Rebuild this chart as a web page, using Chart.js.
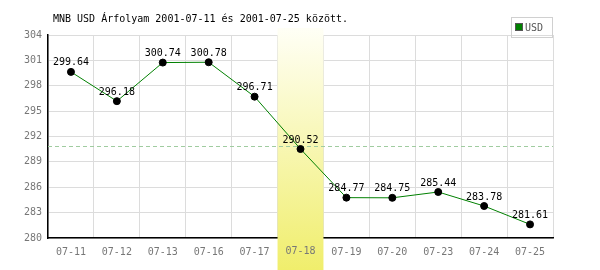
<!DOCTYPE html>
<html>
<head>
<meta charset="utf-8">
<script src="https://cdn.jsdelivr.net/npm/chart.js@4"></script>
<style>
  body { margin: 0; background: #fff; }
  #wrap { width: 600px; height: 270px; }
</style>
</head>
<body>
<div id="wrap"><canvas id="grafikon" width="600" height="270"></canvas></div>
<script>
var napok = ['07-11', '07-12', '07-13', '07-16', '07-17', '07-18', '07-19', '07-20', '07-23', '07-24', '07-25'];
var arfolyam = [299.64, 296.18, 300.74, 300.78, 296.71, 290.52, 284.77, 284.75, 285.44, 283.78, 281.61];
var atlag = [290.85];
var kiemelt = ['07-18'];
var cim = 'MNB USD Árfolyam 2001-07-11 és 2001-07-25 között.';
var mono = '"DejaVu Sans Mono", monospace';

var rajzolo = {
    id: 'rajzolo',
    beforeDatasetsDraw: function (chart) {
        var ctx = chart.ctx;
        var x = chart.scales.x;
        var y = chart.scales.y;
        var area = chart.chartArea;
        var fel = (x.getPixelForValue(1) - x.getPixelForValue(0)) / 2;

        // kiemelt nap sávja
        kiemelt.forEach(function (nap) {
            var kx = x.getPixelForValue(napok.indexOf(nap));
            var g = ctx.createLinearGradient(0, 28, 0, 270);
            g.addColorStop(0, '#fffff6');
            g.addColorStop(1, '#f0ee6c');
            ctx.save();
            ctx.fillStyle = g;
            ctx.fillRect(kx - fel, 28, fel * 2, 242);
            // a nap felirata a sáv fölé
            ctx.font = '10px ' + mono;
            ctx.fillStyle = '#777';
            ctx.textAlign = 'center';
            ctx.textBaseline = 'top';
            ctx.fillText(nap, kx, area.bottom + 8);
            ctx.restore();
        });

        // átlag vonal
        var ay = Math.round(y.getPixelForValue(atlag[0])) + 0.5;
        ctx.save();
        ctx.strokeStyle = '#a0cca0';
        ctx.lineWidth = 1;
        ctx.setLineDash([4, 3]);
        ctx.beginPath();
        ctx.moveTo(area.left, ay);
        ctx.lineTo(area.right, ay);
        ctx.stroke();
        ctx.restore();
    },
    afterDraw: function (chart) {
        var ctx = chart.ctx;
        var meta = chart.getDatasetMeta(0);
        ctx.save();
        ctx.font = '10px ' + mono;
        ctx.fillStyle = '#000';
        ctx.textAlign = 'center';
        ctx.textBaseline = 'bottom';
        meta.data.forEach(function (pont, i) {
            ctx.fillText(arfolyam[i].toFixed(2), pont.x, pont.y - 4);
        });

        // cím
        ctx.textAlign = 'left';
        ctx.textBaseline = 'middle';
        ctx.fillText(cim, 53, 19);

        // jelmagyarázat
        ctx.strokeStyle = '#d0d0d0';
        ctx.lineWidth = 1;
        ctx.strokeRect(511.5, 17.5, 41, 20);
        ctx.fillStyle = '#008000';
        ctx.fillRect(516, 24, 6, 6);
        ctx.strokeStyle = '#555';
        ctx.strokeRect(515.5, 23.5, 7, 7);
        ctx.fillStyle = '#555';
        ctx.font = '10px ' + mono;
        ctx.fillText('USD', 525, 28);
        ctx.restore();
    }
};

new Chart(document.getElementById('grafikon'), {
    type: 'line',
    data: {
        labels: napok,
        datasets: [{
            label: 'USD',
            data: arfolyam,
            borderColor: '#008000',
            borderWidth: 1,
            pointBackgroundColor: '#000',
            pointBorderColor: '#000',
            pointRadius: 3.5,
            tension: 0
        }]
    },
    options: {
        responsive: false,
        animation: false,
        layout: { padding: { top: 35, right: 47, left: 0, bottom: 0 } },
        plugins: {
            legend: { display: false },
            tooltip: { enabled: false }
        },
        scales: {
            x: {
                offset: true,
                grid: { offset: true, color: '#dcdcdc', drawTicks: false },
                border: { color: '#000', width: 1.5 },
                ticks: { color: '#777', font: { family: mono, size: 10 }, padding: 8 },
                afterFit: function (s) { s.height = 32; }
            },
            y: {
                min: 280,
                max: 304,
                grid: { color: '#dcdcdc', drawTicks: false },
                border: { color: '#000', width: 1.5 },
                ticks: { stepSize: 3, color: '#777', font: { family: mono, size: 10 }, padding: 6 },
                afterFit: function (s) { s.width = 48; }
            }
        }
    },
    plugins: [rajzolo]
});
</script>
</body>
</html>
